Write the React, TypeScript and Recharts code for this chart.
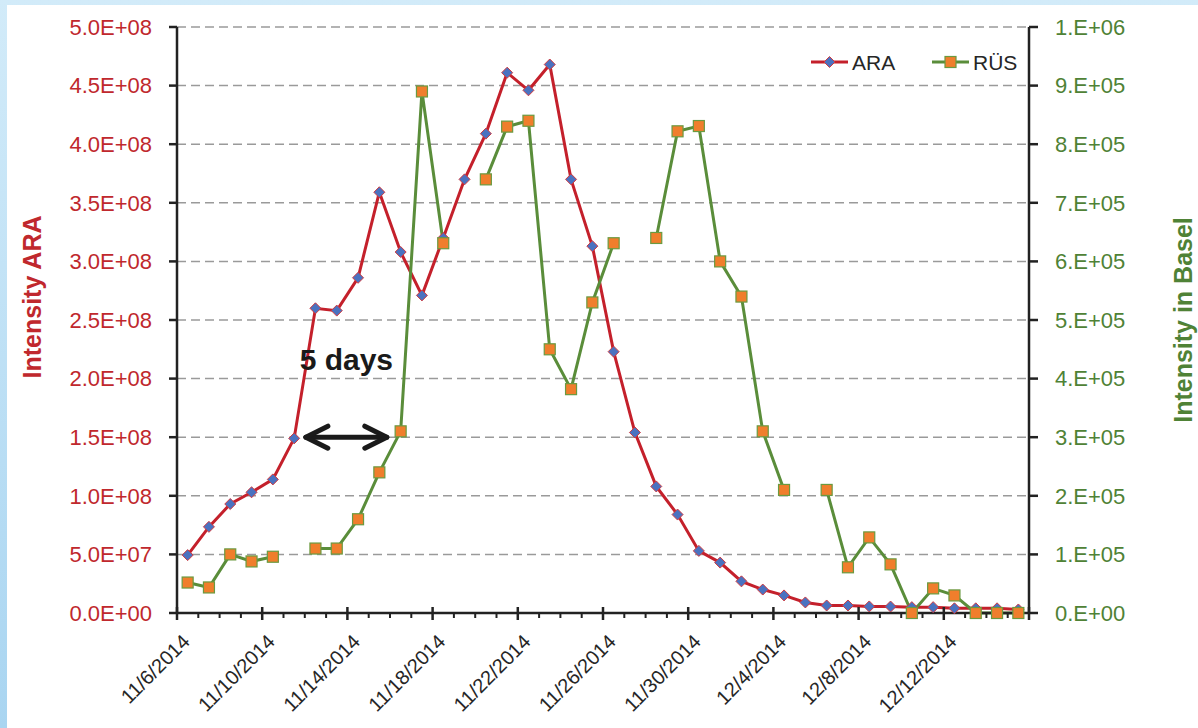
import React from 'react'
import {
  LineChart,
  Line,
  XAxis,
  YAxis,
  CartesianGrid,
  Legend,
  ReferenceLine,
} from 'recharts'

// one entry per day, 11/6/2014 .. 12/15/2014
const dates = [
  '11/6/2014', '11/7/2014', '11/8/2014', '11/9/2014', '11/10/2014',
  '11/11/2014', '11/12/2014', '11/13/2014', '11/14/2014', '11/15/2014',
  '11/16/2014', '11/17/2014', '11/18/2014', '11/19/2014', '11/20/2014',
  '11/21/2014', '11/22/2014', '11/23/2014', '11/24/2014', '11/25/2014',
  '11/26/2014', '11/27/2014', '11/28/2014', '11/29/2014', '11/30/2014',
  '12/1/2014', '12/2/2014', '12/3/2014', '12/4/2014', '12/5/2014',
  '12/6/2014', '12/7/2014', '12/8/2014', '12/9/2014', '12/10/2014',
  '12/11/2014', '12/12/2014', '12/13/2014', '12/14/2014', '12/15/2014',
]

// Intensity ARA (left axis)
const araValues = [
  4.94e7, 7.35e7, 9.3e7, 1.03e8, 1.14e8,
  1.49e8, 2.6e8, 2.58e8, 2.86e8, 3.59e8,
  3.08e8, 2.71e8, 3.2e8, 3.7e8, 4.09e8,
  4.61e8, 4.46e8, 4.68e8, 3.7e8, 3.13e8,
  2.23e8, 1.54e8, 1.08e8, 8.4e7, 5.3e7,
  4.3e7, 2.7e7, 2.0e7, 1.5e7, 9.0e6,
  6.4e6, 6.4e6, 5.6e6, 5.5e6, 5.0e6,
  5.0e6, 4.0e6, 4.0e6, 4.0e6, 3.0e6,
]

// Intensity in Basel, RÜS (right axis); null = no sample
const rusValues = [
  5.2e4, 4.36e4, 1.0e5, 8.8e4, 9.6e4,
  null, 1.1e5, 1.1e5, 1.6e5, 2.4e5,
  3.1e5, 8.9e5, 6.31e5, null, 7.4e5,
  8.3e5, 8.4e5, 4.5e5, 3.82e5, 5.3e5,
  6.31e5, null, 6.4e5, 8.22e5, 8.31e5,
  6.0e5, 5.4e5, 3.1e5, 2.1e5, null,
  2.1e5, 7.8e4, 1.29e5, 8.3e4, 0,
  4.2e4, 3.0e4, 0, 0, 0,
]

const leftTicks = [0, 5e7, 1e8, 1.5e8, 2e8, 2.5e8, 3e8, 3.5e8, 4e8, 4.5e8, 5e8]
const rightTicks = [0, 1e5, 2e5, 3e5, 4e5, 5e5, 6e5, 7e5, 8e5, 9e5, 1e6]
const dayTicks = dates.map((_, i) => i).concat([dates.length])

const data = dates.map((date, i) => ({
  day: i + 0.5,
  date,
  ara: araValues[i],
  rus: rusValues[i],
}))

const FONT = '"Liberation Sans", Arial, sans-serif'
const RED = '#c4202b'
const GREEN = '#5a8d3a'
const RED_TEXT = '#c0282d'
const GREEN_TEXT = '#4f8236'
const AXIS = '#222222'

// 5.0E+08 style
const fmtExp = (v: number, digits: number) => {
  const [m, e] = v.toExponential(digits).split('e')
  const mant = digits === 0 ? m + '.' : m
  return `${mant}E${e[0]}${e.slice(1).padStart(2, '0')}`
}

const Diamond = ({ cx, cy }: { cx: number; cy: number }) => {
  const r = 5.5
  return (
    <polygon
      points={`${cx},${cy - r} ${cx + r},${cy} ${cx},${cy + r} ${cx - r},${cy}`}
      fill="#4a72c0"
      stroke="#d03a40"
      strokeWidth={1}
    />
  )
}

const Square = ({ cx, cy }: { cx: number; cy: number }) => (
  <rect x={cx - 5.5} y={cy - 5.5} width={11} height={11} fill="#f07e2c" stroke="#6a9a40" strokeWidth={1.2} />
)

const araDot = (props: any) => {
  const { cx, cy, index } = props
  if (cx == null || cy == null) return <g key={`a${index}`} />
  return <g key={`a${index}`}><Diamond cx={cx} cy={cy} /></g>
}

const rusDot = (props: any) => {
  const { cx, cy, index, value } = props
  if (cx == null || cy == null || value == null) return <g key={`r${index}`} />
  return <g key={`r${index}`}><Square cx={cx} cy={cy} /></g>
}

// date axis: minor tick every day, major tick + label every 4 days
const XTick = (props: any) => {
  const { x, y, payload } = props
  const v = payload.value
  const major = v % 4 === 0
  return (
    <g>
      <line
        x1={x}
        x2={x}
        y1={major ? y - 6 : y}
        y2={major ? y + 7 : y + 5}
        stroke={AXIS}
        strokeWidth={major ? 2.5 : 2}
      />
      {major && v < dates.length && (
        <text
          transform={`translate(${x + 14},${y + 30}) rotate(-45)`}
          textAnchor="end"
          fontFamily={FONT}
          fontSize={20}
          fill="#262626"
        >
          {dates[v]}
        </text>
      )}
    </g>
  )
}

const LeftTitle = (props: any) => {
  const vb = props.viewBox || { x: 0, y: 27, width: 177, height: 586 }
  const cx = vb.x + 32
  const cy = vb.y + vb.height / 2 - 23
  return (
    <text
      x={cx}
      y={cy}
      transform={`rotate(-90, ${cx}, ${cy})`}
      textAnchor="middle"
      dominantBaseline="central"
      fontFamily={FONT}
      fontWeight="bold"
      fontSize={25}
      fill={RED_TEXT}
    >
      Intensity ARA
    </text>
  )
}

const RightTitle = (props: any) => {
  const vb = props.viewBox || { x: 1029, y: 27, width: 169, height: 586 }
  const cx = vb.x + 154
  const cy = vb.y + vb.height / 2
  return (
    <text
      x={cx}
      y={cy}
      transform={`rotate(-90, ${cx}, ${cy})`}
      textAnchor="middle"
      dominantBaseline="central"
      fontFamily={FONT}
      fontWeight="bold"
      fontSize={25}
      fill={GREEN_TEXT}
    >
      Intensity in Basel
    </text>
  )
}

// double-headed "5 days" arrow
const ArrowShape = (props: any) => {
  const { x1, y1, x2, y2 } = props
  if (x1 == null) return <g />
  const mid = (x1 + x2) / 2
  return (
    <g stroke="#1a1a1a" strokeWidth={5} strokeLinecap="round" strokeLinejoin="round" fill="none">
      <line x1={x1} y1={y1} x2={x2} y2={y2} />
      <polyline points={`${x1 + 22},${y1 - 11} ${x1},${y1} ${x1 + 22},${y1 + 11}`} />
      <polyline points={`${x2 - 22},${y2 - 11} ${x2},${y2} ${x2 - 22},${y2 + 11}`} />
      <text
        x={mid}
        y={y1 - 67}
        textAnchor="middle"
        stroke="none"
        fill="#1a1a1a"
        fontFamily={FONT}
        fontWeight="bold"
        fontSize={30}
      >
        5 days
      </text>
    </g>
  )
}

const LegendContent = () => (
  <svg width={230} height={30} style={{ display: 'block' }}>
    <line x1={0} x2={37} y1={15} y2={15} stroke={RED} strokeWidth={3} />
    <Diamond cx={18.5} cy={15} />
    <text x={41} y={22.5} fontFamily={FONT} fontSize={21} fill="#262626">ARA</text>
    <line x1={121} x2={158} y1={15} y2={15} stroke={GREEN} strokeWidth={3} />
    <Square cx={139.5} cy={15} />
    <text x={162} y={22.5} fontFamily={FONT} fontSize={21} fill="#262626">RÜS</text>
  </svg>
)

export default function App() {
  return (
    <div
      style={{
        position: 'absolute',
        left: 0,
        top: 0,
        width: 1198,
        height: 728,
        background: 'linear-gradient(180deg, #d2ebf9 0%, #a9d5f1 100%)',
      }}
    >
      <div style={{ position: 'absolute', left: 7, top: 5, right: 0, bottom: 0, background: '#ffffff' }} />
      <div style={{ position: 'absolute', left: 0, top: 0 }}>
        <LineChart width={1198} height={728} data={data} margin={{ top: 27, right: 0, bottom: 0, left: 0 }}>
          <CartesianGrid
            yAxisId="left"
            vertical={false}
            stroke="#9a9a9a"
            strokeWidth={1.5}
            strokeDasharray="9 5"
          />
          <XAxis
            type="number"
            dataKey="day"
            domain={[0, dates.length]}
            ticks={dayTicks}
            interval={0}
            height={115}
            tickSize={0}
            tickMargin={0}
            tickLine={false}
            tick={<XTick />}
            axisLine={{ stroke: AXIS, strokeWidth: 2.5 }}
          />
          <YAxis
            yAxisId="left"
            domain={[0, 5e8]}
            ticks={leftTicks}
            interval={0}
            width={177}
            tickSize={8}
            tickMargin={17}
            tickFormatter={(v: number) => fmtExp(v, 1)}
            tick={{ fill: RED_TEXT, fontSize: 22, fontFamily: FONT }}
            axisLine={{ stroke: AXIS, strokeWidth: 2.5 }}
            tickLine={{ stroke: AXIS, strokeWidth: 2.5 }}
            label={{ content: LeftTitle }}
          />
          <YAxis
            yAxisId="right"
            orientation="right"
            domain={[0, 1e6]}
            ticks={rightTicks}
            interval={0}
            width={169}
            tickSize={9}
            tickMargin={17}
            tickFormatter={(v: number) => fmtExp(v, 0)}
            tick={{ fill: GREEN_TEXT, fontSize: 22, fontFamily: FONT }}
            axisLine={{ stroke: AXIS, strokeWidth: 2.5 }}
            tickLine={{ stroke: AXIS, strokeWidth: 2.5 }}
            label={{ content: RightTitle }}
          />
          <Legend
            layout="horizontal"
            verticalAlign="middle"
            align="center"
            content={() => <LegendContent />}
            wrapperStyle={{ left: 811, top: 47, width: 230, height: 30 }}
          />
          <Line
            yAxisId="left"
            dataKey="ara"
            name="ARA"
            stroke={RED}
            strokeWidth={3}
            dot={araDot}
            activeDot={false}
            isAnimationActive={false}
          />
          <Line
            yAxisId="right"
            dataKey="rus"
            name="RÜS"
            stroke={GREEN}
            strokeWidth={3}
            dot={rusDot}
            activeDot={false}
            connectNulls={false}
            isAnimationActive={false}
          />
          <ReferenceLine
            yAxisId="left"
            segment={[{ x: 6.05, y: 1.5e8 }, { x: 9.85, y: 1.5e8 }]}
            shape={ArrowShape}
          />
        </LineChart>
      </div>
    </div>
  )
}
